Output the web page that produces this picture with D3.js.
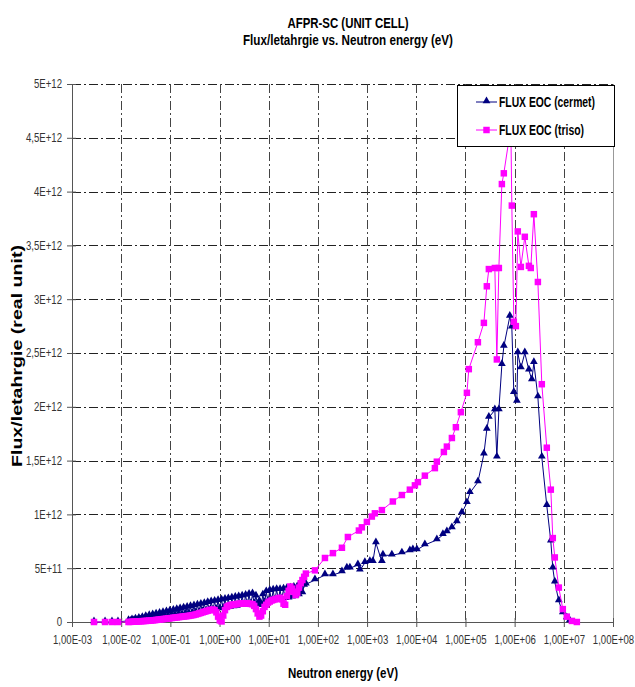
<!DOCTYPE html>
<html><head><meta charset="utf-8">
<script src="https://cdn.jsdelivr.net/npm/d3@7"></script>
<style>body{margin:0;background:#fff}</style>
</head><body>
<svg id="c" width="635" height="687"></svg>
<script>
// ---------- data ----------
const titleLines = ["AFPR-SC (UNIT CELL)", "Flux/letahrgie vs. Neutron energy (eV)"];
const xTitle = "Neutron energy (eV)";
const yTitle = "Flux/letahrgie (real unit)";
const seriesNames = ["FLUX EOC (cermet)", "FLUX EOC (triso)"];

const xTickValues = [1e-3, 1e-2, 1e-1, 1e0, 1e1, 1e2, 1e3, 1e4, 1e5, 1e6, 1e7, 1e8];
const xTickLabels = ["1,00E-03","1,00E-02","1,00E-01","1,00E+00","1,00E+01","1,00E+02","1,00E+03","1,00E+04","1,00E+05","1,00E+06","1,00E+07","1,00E+08"];
// flux in units of 1E+12
const yTickValues = [0, 0.5, 1, 1.5, 2, 2.5, 3, 3.5, 4, 4.5, 5];
const yTickLabels = ["0","5E+11","1E+12","1,5E+12","2E+12","2,5E+12","3E+12","3,5E+12","4E+12","4,5E+12","5E+12"];

// shared energy grid (eV) for the thermal / epithermal part
const lowEnergy = [2.8e-3, 4.7e-3, 6.5e-3, 8.6e-3,
  0.0141, 0.0153, 0.0166, 0.0180, 0.0195, 0.0211, 0.0229, 0.0248, 0.0269, 0.0292,
  0.0316, 0.0343, 0.0372, 0.0403, 0.0437, 0.0473, 0.0513, 0.0556, 0.0603, 0.0653,
  0.0708, 0.0767, 0.0832, 0.0902, 0.0977, 0.106, 0.115, 0.124, 0.135, 0.146,
  0.158, 0.172, 0.186, 0.202, 0.219, 0.237, 0.257, 0.279, 0.302, 0.327,
  0.355, 0.385, 0.417, 0.452, 0.490, 0.531, 0.575, 0.624, 0.676, 0.733,
  0.794, 0.861, 0.933, 1.01, 1.10, 1.19, 1.29, 1.40, 1.51, 1.64,
  1.78, 1.93, 2.09, 2.26, 2.45, 2.66, 2.88, 3.13, 3.39, 3.67,
  3.98, 4.32, 4.68, 5.07, 5.50, 5.96, 6.46, 7.00, 7.59, 8.22,
  8.91, 9.66, 10.5, 11.4, 12.3, 13.3, 14.5, 15.7, 17.0, 18.4,
  20.0, 21.6, 23.4, 25.4, 27.5, 29.9, 32.4, 35.1, 38.0, 41.2,
  44.7, 48.4, 52.5, 56.9];

const cermetLowFlux = [0, 0, 0, 0,
  0.012, 0.006, 0.018, 0.009, 0.025, 0.013, 0.032, 0.017, 0.04, 0.021,
  0.05, 0.026, 0.058, 0.031, 0.065, 0.035, 0.072, 0.04, 0.08, 0.044,
  0.087, 0.048, 0.094, 0.052, 0.10, 0.056, 0.107, 0.06, 0.114, 0.064,
  0.122, 0.068, 0.128, 0.072, 0.135, 0.076, 0.141, 0.08, 0.148, 0.085,
  0.155, 0.09, 0.163, 0.095, 0.17, 0.10, 0.178, 0.105, 0.185, 0.11,
  0.19, 0.115, 0.197, 0.12, 0.203, 0.125, 0.21, 0.13, 0.215, 0.135,
  0.22, 0.14, 0.227, 0.145, 0.233, 0.15, 0.24, 0.155, 0.247, 0.16,
  0.255, 0.165, 0.26, 0.17, 0.24, 0.16, 0.19, 0.15, 0.25, 0.18,
  0.28, 0.19, 0.29, 0.195, 0.295, 0.20, 0.30, 0.205, 0.30, 0.21,
  0.305, 0.215, 0.31, 0.22, 0.315, 0.23, 0.32, 0.24, 0.325, 0.25,
  0.33, 0.27, 0.34, 0.35];

const trisoLowFlux = [0, 0, 0, 0,
  0.0, 0.001, 0.002, 0.003, 0.004, 0.005, 0.006, 0.007, 0.008, 0.009,
  0.01, 0.011, 0.013, 0.014, 0.016, 0.017, 0.019, 0.021, 0.023, 0.025,
  0.027, 0.029, 0.031, 0.033, 0.035, 0.037, 0.039, 0.041, 0.043, 0.045,
  0.047, 0.049, 0.051, 0.053, 0.055, 0.057, 0.06, 0.063, 0.066, 0.07,
  0.075, 0.08, 0.085, 0.09, 0.095, 0.10, 0.105, 0.11, 0.113, 0.116,
  0.11, 0.09, 0.05, 0.015, 0.005, 0.06, 0.11, 0.14, 0.15, 0.155,
  0.16, 0.162, 0.165, 0.167, 0.17, 0.17, 0.172, 0.173, 0.175, 0.173,
  0.17, 0.168, 0.165, 0.15, 0.12, 0.08, 0.05, 0.06, 0.10, 0.14,
  0.16, 0.18, 0.19, 0.20, 0.205, 0.21, 0.215, 0.22, 0.225, 0.21,
  0.17, 0.16, 0.24, 0.29, 0.33, 0.31, 0.28, 0.25, 0.27, 0.32,
  0.36, 0.39, 0.42, 0.45];

const cermetHighEnergy = [87, 139, 202, 308, 388, 447, 650, 714, 902, 1140, 1310, 1510, 2000, 2100,
  3190, 5100, 7410, 8530, 10300, 14950, 26200, 34800, 41900, 53000, 66900, 84500,
  1.07e5, 1.23e5, 1.79e5, 2.37e5, 2.72e5, 2.99e5, 3.96e5, 4.35e5, 4.78e5, 5.50e5, 6.03e5,
  7.98e5, 8.77e5, 9.63e5, 1.11e6, 1.16e6, 1.34e6, 1.61e6, 1.95e6, 2.24e6, 2.46e6, 2.97e6,
  3.57e6, 4.51e6, 5.44e6, 5.97e6, 6.56e6, 7.91e6, 9.54e6, 1.15e7, 1.32e7];
const cermetHighFlux = [0.39, 0.437, 0.437, 0.465, 0.50, 0.50, 0.53, 0.48, 0.55, 0.56, 0.56, 0.735, 0.56, 0.62,
  0.62, 0.64, 0.66, 0.67, 0.67, 0.716, 0.763, 0.81, 0.837, 0.874, 0.93, 1.014,
  1.107, 1.20, 1.30, 1.56, 1.79, 1.90, 1.97, 1.53, 1.97, 2.39, 2.56,
  2.84, 2.74, 2.13, 2.05, 2.50, 2.36, 2.50, 2.34, 2.25, 2.41, 2.09,
  1.53, 1.08, 0.75, 0.50, 0.37, 0.195, 0.084, 0.037, 0.01];

const trisoHighEnergy = [87, 139, 202, 308, 407, 681, 783, 990, 1250, 1440, 2000, 3340, 5100, 7410,
  9380, 10800, 14950, 23900, 26200, 36400, 41900, 53000, 63900, 80700,
  1.07e5, 1.17e5, 1.79e5, 2.37e5, 2.72e5, 2.99e5, 3.96e5, 4.35e5, 4.78e5, 5.50e5, 6.03e5,
  8.37e5, 8.77e5, 9.63e5, 1.06e6, 1.16e6, 1.34e6, 1.61e6, 1.95e6, 2.13e6, 2.46e6, 2.97e6,
  3.57e6, 4.51e6, 5.44e6, 5.97e6, 6.56e6, 7.91e6, 9.54e6, 1.15e7, 1.46e7, 1.84e7];
const trisoHighFlux = [0.48, 0.595, 0.64, 0.69, 0.79, 0.85, 0.88, 0.93, 0.98, 1.01, 1.04, 1.12, 1.18, 1.23,
  1.27, 1.30, 1.36, 1.43, 1.49, 1.58, 1.63, 1.71, 1.81, 1.95,
  2.13, 2.35, 2.60, 2.78, 3.12, 3.28, 3.29, 2.44, 3.29, 4.07, 4.17,
  4.60, 3.87, 2.79, 2.75, 3.63, 3.30, 3.58, 3.31, 3.29, 3.79, 3.16,
  2.21, 1.62, 1.23, 0.78, 0.60, 0.32, 0.12, 0.05, 0.01, 0.0];

// ---------- layout ----------
const W = 635, H = 687;
const plot = {left: 72, right: 613, top: 84, bottom: 622};
const NAVY = "#000080", MAGENTA = "#ff00ff";
const FONT = "'Liberation Sans',Arial,sans-serif";

const svg = d3.select("#c");
svg.append("rect").attr("width", W).attr("height", H).attr("fill", "#fff");

const x = d3.scaleLog().domain([1e-3, 1e8]).range([plot.left, plot.right]);
const y = d3.scaleLinear().domain([0, 5]).range([plot.bottom, plot.top]);

function fitWidth(sel, w) {
  sel.attr("textLength", w).attr("lengthAdjust", "spacingAndGlyphs");
}

// ---------- grid ----------
const grid = svg.append("g");
grid.selectAll("line.h").data(yTickValues.filter(v => v > 0)).join("line")
  .attr("x1", plot.left).attr("x2", plot.right)
  .attr("y1", d => Math.round(y(d)) + 0.5).attr("y2", d => Math.round(y(d)) + 0.5)
  .attr("stroke", "#222").attr("stroke-width", 1).attr("stroke-dasharray", "9,3,2,3");
grid.selectAll("line.v").data(xTickValues.slice(1, -1)).join("line")
  .attr("x1", d => Math.round(x(d)) + 0.5).attr("x2", d => Math.round(x(d)) + 0.5)
  .attr("y1", plot.top).attr("y2", plot.bottom)
  .attr("stroke", "#444").attr("stroke-width", 1).attr("stroke-dasharray", "9,3,2,3");
svg.append("line").attr("x1", plot.right + 0.5).attr("x2", plot.right + 0.5)
  .attr("y1", plot.top).attr("y2", plot.bottom).attr("stroke", "#999");

// ---------- axes ----------
const xAxis = d3.axisBottom(x).tickValues(xTickValues)
  .tickFormat((d, i) => xTickLabels[i]).tickSizeInner(5).tickSizeOuter(0).tickPadding(8);
const gx = svg.append("g").attr("transform", `translate(0,${plot.bottom})`).call(xAxis);
gx.select(".domain").attr("stroke", "#555");
gx.selectAll(".tick line").attr("stroke", "#555").attr("y1", -4);
gx.selectAll(".tick text").style("font-family", FONT).style("font-size", "12px").attr("fill", "#333");
const xRef = gx.select(".tick text").node().getComputedTextLength();
const K = 39 / xRef;   // horizontal condensing to mimic the narrow face
gx.selectAll(".tick text").attr("transform", `scale(${K},1)`);

const yAxis = d3.axisLeft(y).tickValues(yTickValues)
  .tickFormat((d, i) => yTickLabels[i]).tickSizeInner(5).tickSizeOuter(0).tickPadding(5);
const gy = svg.append("g").attr("transform", `translate(${plot.left},0)`).call(yAxis);
gy.select(".domain").attr("stroke", "#555");
gy.selectAll(".tick line").attr("stroke", "#555").attr("x2", -5).attr("x1", 4);
gy.selectAll(".tick text").style("font-family", FONT).style("font-size", "12px").attr("fill", "#333")
  .attr("x", -10 / K).attr("transform", `scale(${K},1)`);

// ---------- series ----------
function build(eLow, fLow, eHigh, fHigh) {
  const a = eLow.map((e, i) => ({e, v: fLow[i]}));
  const b = eHigh.map((e, i) => ({e, v: fHigh[i]}));
  return a.concat(b);
}
const cermet = build(lowEnergy, cermetLowFlux, cermetHighEnergy, cermetHighFlux);
const triso = build(lowEnergy, trisoLowFlux, trisoHighEnergy, trisoHighFlux);

const line = d3.line().x(d => x(d.e)).y(d => y(d.v));
const tri = d3.symbol().type(d3.symbolTriangle).size(26);
const sq = d3.symbol().type(d3.symbolSquare).size(42);

svg.append("path").datum(cermet).attr("d", line).attr("fill", "none").attr("stroke", NAVY).attr("stroke-width", 1);
svg.append("g").selectAll("path").data(cermet).join("path")
  .attr("d", tri).attr("transform", d => `translate(${x(d.e)},${y(d.v) - 1})`).attr("fill", NAVY);

svg.append("path").datum(triso).attr("d", line).attr("fill", "none").attr("stroke", MAGENTA).attr("stroke-width", 1);
svg.append("g").selectAll("path").data(triso).join("path")
  .attr("d", sq).attr("transform", d => `translate(${x(d.e)},${y(d.v)})`).attr("fill", MAGENTA);

// ---------- legend ----------
const lg = svg.append("g");
lg.append("rect").attr("x", 457.5).attr("y", 85.5).attr("width", 157).attr("height", 61)
  .attr("fill", "#fff").attr("stroke", "#000").attr("stroke-width", 1);
const legendItems = [
  {name: seriesNames[0], color: NAVY, sym: tri, w: 96},
  {name: seriesNames[1], color: MAGENTA, sym: sq, w: 85}];
legendItems.forEach((it, i) => {
  const cy = 102 + i * 28;
  lg.append("line").attr("x1", 476).attr("x2", 497).attr("y1", cy).attr("y2", cy).attr("stroke", it.color);
  lg.append("path").attr("d", it.sym).attr("transform", `translate(486.5,${cy - (i === 0 ? 1 : 0)})`).attr("fill", it.color);
  const t = lg.append("text").attr("x", 499).attr("y", cy + 5).text(it.name)
    .style("font-family", FONT).style("font-size", "14.5px").style("font-weight", "bold").attr("fill", "#000");
  fitWidth(t, it.w);
});

// ---------- titles ----------
const titleW = [121, 210];
titleLines.forEach((s, i) => {
  const t = svg.append("text").attr("x", 348).attr("y", 28 + i * 16.5).attr("text-anchor", "middle")
    .style("font-family", FONT).style("font-size", "15px").style("font-weight", "bold").text(s);
  fitWidth(t, titleW[i]);
});
const xt = svg.append("text").attr("x", 343).attr("y", 678).attr("text-anchor", "middle")
  .style("font-family", FONT).style("font-size", "15px").style("font-weight", "bold").text(xTitle);
fitWidth(xt, 110);
const yt = svg.append("text").attr("transform", "translate(22,356) rotate(-90)").attr("text-anchor", "middle")
  .style("font-family", FONT).style("font-size", "15px").style("font-weight", "bold").text(yTitle);
fitWidth(yt, 222);
</script>
</body></html>
